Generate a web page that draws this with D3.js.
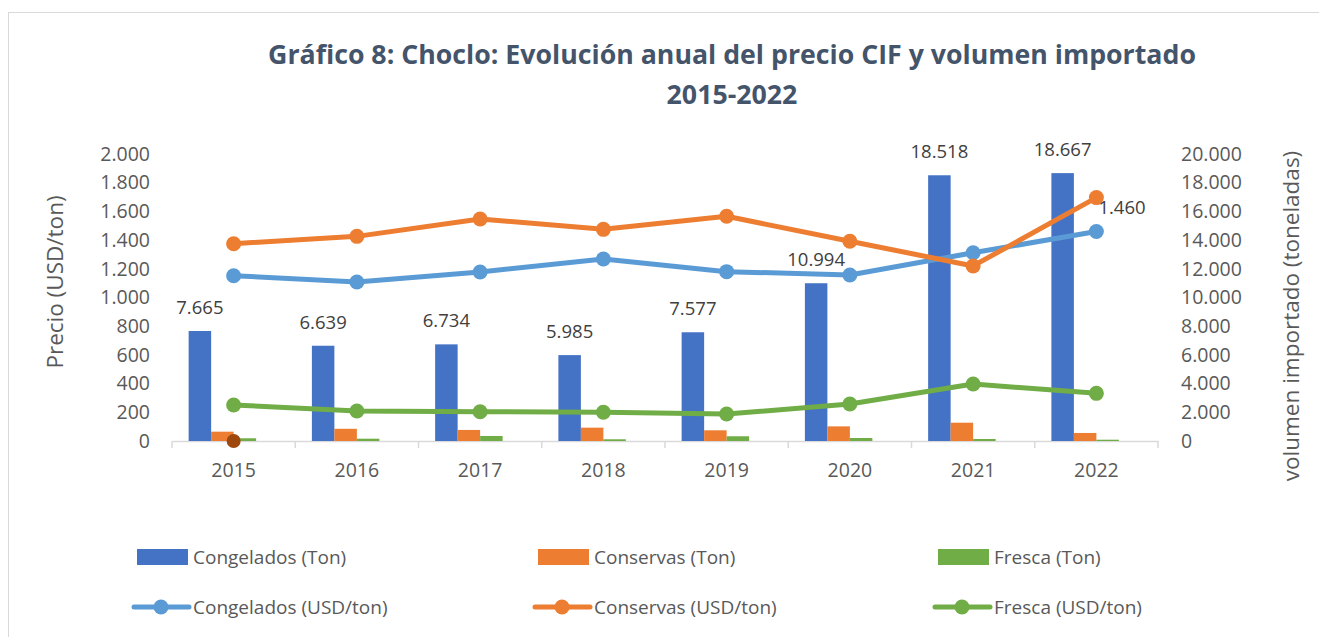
<!DOCTYPE html>
<html>
<head>
<meta charset="utf-8">
<script src="https://cdn.jsdelivr.net/npm/d3@7"></script>
<style>
  html, body { margin: 0; padding: 0; background: #fff; }
  svg { display: block; font-family: "Open Sans", sans-serif; }
</style>
</head>
<body>
<svg id="chart" width="1319" height="637"></svg>
<script>
// ---------------- data ----------------
const years = ["2015", "2016", "2017", "2018", "2019", "2020", "2021", "2022"];
const congeladosTon = [7665, 6639, 6734, 5985, 7577, 10994, 18518, 18667];
const conservasTon  = [650, 850, 770, 930, 745, 1020, 1275, 560];
const frescaTon     = [190, 160, 350, 120, 330, 210, 140, 90];
const congeladosUSD = [1152, 1108, 1178, 1268, 1180, 1157, 1312, 1460];
const conservasUSD  = [1375, 1426, 1547, 1475, 1566, 1392, 1220, 1696];
const frescaUSD     = [251, 209, 204, 200, 188, 258, 397, 332];
const extraPoint    = [{ year: "2015", value: 0 }];
const leftTicks  = [0, 200, 400, 600, 800, 1000, 1200, 1400, 1600, 1800, 2000];
const rightTicks = [0, 2000, 4000, 6000, 8000, 10000, 12000, 14000, 16000, 18000, 20000];
const barLabelIdx = [0, 1, 2, 3, 4, 5, 6, 7];

const barSeries = [
  { name: "Congelados (Ton)", values: congeladosTon, color: "#4472C4" },
  { name: "Conservas (Ton)",  values: conservasTon,  color: "#ED7D31" },
  { name: "Fresca (Ton)",     values: frescaTon,     color: "#70AD47" }
];
const lineSeries = [
  { name: "Congelados (USD/ton)", values: congeladosUSD, color: "#5B9BD5" },
  { name: "Conservas (USD/ton)",  values: conservasUSD,  color: "#ED7D31" },
  { name: "Fresca (USD/ton)",     values: frescaUSD,     color: "#70AD47" }
];

// ---------------- layout ----------------
const svg = d3.select("#chart");
const fmt = d3.formatLocale({ decimal: ",", thousands: ".", grouping: [3], currency: ["", ""] }).format(",.0f");

const plot = { left: 172, right: 1158, top: 154, bottom: 441 };

// frame
svg.append("rect").attr("x", 8.5).attr("y", 12.5).attr("width", 1330).attr("height", 640)
  .attr("fill", "none").attr("stroke", "#d9d9d9").attr("stroke-width", 1);

const x = d3.scaleBand().domain(years).range([plot.left, plot.right]).padding(0);
const groupW = x.bandwidth() * 0.73;
const xs = d3.scaleBand().domain([0, 1, 2, 3]).range([0, groupW]).padding(0);
const yL = d3.scaleLinear().domain([0, 2000]).range([plot.bottom, plot.top]);
const yR = d3.scaleLinear().domain([0, 20000]).range([plot.bottom, plot.top]);

// title
const titleColor = "#44546A";
const t1 = svg.append("text").attr("x", 732).attr("y", 64).attr("text-anchor", "middle")
  .attr("fill", titleColor).attr("font-weight", "bold").attr("font-size", 26)
  .text("Gráfico 8: Choclo: Evolución anual del precio CIF y volumen importado");
const w1 = t1.node().getComputedTextLength();
const fs = 26 * 928 / w1;
t1.attr("font-size", fs);
svg.append("text").attr("x", 732).attr("y", 104).attr("text-anchor", "middle")
  .attr("fill", titleColor).attr("font-weight", "bold").attr("font-size", fs)
  .text("2015-2022");

// axes
const axisColor = "#595959";
const tickFs = 19.5;
const leftAxis = svg.append("g").attr("transform", `translate(${plot.left},0)`)
  .call(d3.axisLeft(yL).tickValues(leftTicks).tickFormat(fmt).tickSize(0).tickPadding(22));
leftAxis.select(".domain").remove();
leftAxis.selectAll("text").attr("font-size", tickFs).attr("fill", axisColor).attr("font-family", "Open Sans");

const rightAxis = svg.append("g").attr("transform", `translate(${plot.right},0)`)
  .call(d3.axisRight(yR).tickValues(rightTicks).tickFormat(fmt).tickSize(0).tickPadding(23));
rightAxis.select(".domain").remove();
rightAxis.selectAll("text").attr("font-size", tickFs).attr("fill", axisColor).attr("font-family", "Open Sans");

const bottomAxis = svg.append("g").attr("transform", `translate(0,${plot.bottom})`)
  .call(d3.axisBottom(x).tickSize(0).tickPadding(22));
bottomAxis.select(".domain").attr("stroke", "#d9d9d9").attr("stroke-width", 1.5);
bottomAxis.selectAll("text").attr("font-size", tickFs).attr("fill", axisColor).attr("font-family", "Open Sans");
// boundary ticks
const bounds = years.map(d => x(d)).concat([x(years[years.length - 1]) + x.bandwidth()]);
svg.append("g").selectAll("line").data(bounds).join("line")
  .attr("x1", d => d).attr("x2", d => d)
  .attr("y1", plot.bottom).attr("y2", plot.bottom + 7)
  .attr("stroke", "#d9d9d9").attr("stroke-width", 1.5);

// axis titles
svg.append("text").attr("transform", `translate(63,282) rotate(-90)`)
  .attr("text-anchor", "middle").attr("fill", axisColor).attr("font-size", 22.5)
  .text("Precio (USD/ton)");
svg.append("text").attr("transform", `translate(1299,316) rotate(-90)`)
  .attr("text-anchor", "middle").attr("fill", axisColor).attr("font-size", 22.5)
  .text("volumen importado (toneladas)");

// bars
const groupOffset = (x.bandwidth() - groupW) / 2;
barSeries.forEach((s, si) => {
  svg.append("g").selectAll("rect").data(s.values).join("rect")
    .attr("x", (d, i) => x(years[i]) + groupOffset + xs(si))
    .attr("width", xs.bandwidth())
    .attr("y", d => yR(d))
    .attr("height", d => plot.bottom - yR(d))
    .attr("fill", s.color);
});

// bar labels (Congelados)
svg.append("g").selectAll("text").data(barLabelIdx).join("text")
  .attr("x", i => x(years[i]) + groupOffset + xs(0) + xs.bandwidth() / 2)
  .attr("y", i => yR(congeladosTon[i]) - 17)
  .attr("text-anchor", "middle").attr("font-size", 18.5).attr("fill", "#404040")
  .text(i => fmt(congeladosTon[i]));

// lines
const lineGen = d3.line().x((d, i) => x(years[i]) + x.bandwidth() / 2).y(d => yL(d));
lineSeries.forEach(s => {
  svg.append("path").datum(s.values).attr("d", lineGen)
    .attr("fill", "none").attr("stroke", s.color).attr("stroke-width", 5)
    .attr("stroke-linejoin", "round").attr("stroke-linecap", "round");
  svg.append("g").selectAll("circle").data(s.values).join("circle")
    .attr("cx", (d, i) => x(years[i]) + x.bandwidth() / 2)
    .attr("cy", d => yL(d)).attr("r", 7.5).attr("fill", s.color);
});

// extra point
svg.append("g").selectAll("circle").data(extraPoint).join("circle")
  .attr("cx", d => x(d.year) + x.bandwidth() / 2).attr("cy", d => yL(d.value))
  .attr("r", 7).attr("fill", "#9E480E");

// last label of congelados USD
const lastI = congeladosUSD.length - 1;
svg.append("text")
  .attr("x", x(years[lastI]) + x.bandwidth() / 2 + 2)
  .attr("y", yL(congeladosUSD[lastI]) - 17)
  .attr("font-size", 18.5).attr("fill", "#404040")
  .text(fmt(congeladosUSD[lastI]));

// legend
const legX = [137, 538, 938];
const legFs = 19;
barSeries.forEach((s, i) => {
  const g = svg.append("g");
  g.append("rect").attr("x", legX[i]).attr("y", 549).attr("width", 51).attr("height", 16).attr("fill", s.color);
  g.append("text").attr("x", legX[i] + 56).attr("y", 564).attr("font-size", legFs).attr("fill", axisColor).text(s.name);
});
lineSeries.forEach((s, i) => {
  const g = svg.append("g");
  g.append("line").attr("x1", legX[i] - 3).attr("x2", legX[i] + 52).attr("y1", 607).attr("y2", 607)
    .attr("stroke", s.color).attr("stroke-width", 5).attr("stroke-linecap", "round");
  g.append("circle").attr("cx", legX[i] + 24).attr("cy", 607).attr("r", 7.5).attr("fill", s.color);
  g.append("text").attr("x", legX[i] + 56).attr("y", 614).attr("font-size", legFs).attr("fill", axisColor).text(s.name);
});
</script>
</body>
</html>
